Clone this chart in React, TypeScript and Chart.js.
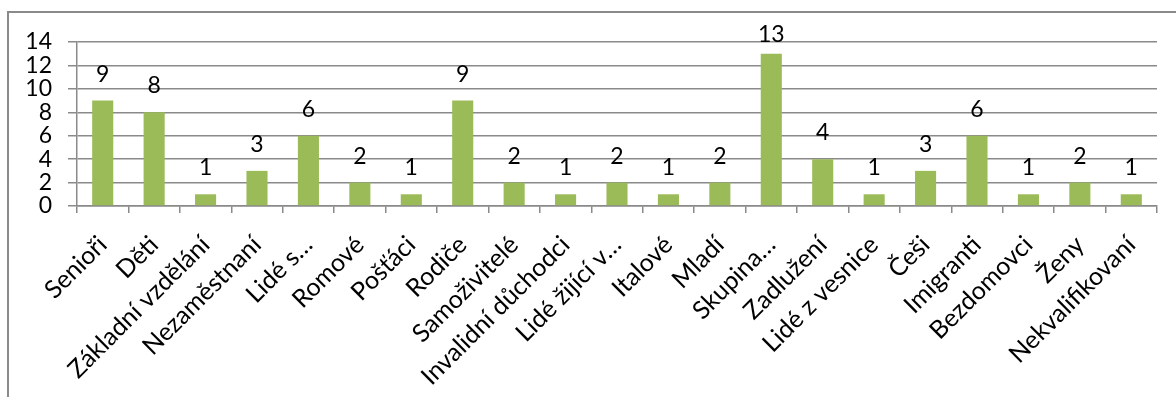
import React, { useEffect, useRef } from "react";
import { Chart, registerables } from "chart.js";

Chart.register(...registerables);

const categories: string[] = [
  "Senioři", "Děti", "Základní vzdělání", "Nezaměstnaní", "Lidé s…", "Romové",
  "Pošťáci", "Rodiče", "Samoživitelé", "Invalidní důchodci", "Lidé žijící v…",
  "Italové", "Mladí", "Skupina…", "Zadlužení", "Lidé z vesnice", "Češi",
  "Imigranti", "Bezdomovci", "Ženy", "Nekvalifikovaní",
];
const counts: number[] = [9, 8, 1, 3, 6, 2, 1, 9, 2, 1, 2, 1, 2, 13, 4, 1, 3, 6, 1, 2, 1];
const yTicks: number[] = [0, 2, 4, 6, 8, 10, 12, 14];

const FONT = "Lato, 'Open Sans', sans-serif";
const GRID = "#8a8a8a";

const valueLabels = {
  id: "valueLabels",
  afterDatasetsDraw(chart: any) {
    const ctx = chart.ctx;
    const meta = chart.getDatasetMeta(0);
    ctx.save();
    ctx.font = `23px ${FONT}`;
    ctx.fillStyle = "#000";
    ctx.textAlign = "center";
    ctx.textBaseline = "alphabetic";
    meta.data.forEach((bar: any, i: number) => {
      const y = Math.max(bar.y - 19, chart.chartArea.top);
      ctx.fillText(String(chart.data.datasets[0].data[i]), bar.x, y);
    });
    ctx.restore();
  },
};

export default function App() {
  const ref = useRef<HTMLCanvasElement>(null);
  useEffect(() => {
    if (!ref.current) return;
    const chart = new Chart(ref.current, {
      type: "bar",
      data: {
        labels: categories,
        datasets: [
          {
            data: counts,
            backgroundColor: "#9BBB59",
            barPercentage: 0.41,
            categoryPercentage: 1,
          },
        ],
      },
      plugins: [valueLabels],
      options: {
        responsive: false,
        animation: false,
        devicePixelRatio: 1,
        layout: { padding: { top: 42, right: 19, left: 0, bottom: 0 } },
        plugins: { legend: { display: false }, tooltip: { enabled: false } },
        scales: {
          x: {
            grid: { drawOnChartArea: false, drawTicks: true, tickLength: 7, color: GRID, lineWidth: 1.5, offset: true },
            border: { display: true, color: GRID, width: 1.5 },
            ticks: {
              autoSkip: false,
              minRotation: 45,
              maxRotation: 45,
              color: "#000",
              font: { family: FONT, size: 25 },
              padding: 17,
            },
            afterFit: (s: any) => { s.height = 397 - 206; },
          },
          y: {
            min: 0,
            max: 14,
            afterBuildTicks: (s: any) => { s.ticks = yTicks.map((v) => ({ value: v })); },
            grid: { color: GRID, lineWidth: 1.5, tickLength: 9 },
            border: { display: true, color: GRID, width: 1.5 },
            ticks: {
              autoSkip: false,
              color: "#000",
              font: { family: FONT, size: 23 },
              padding: 16,
            },
            afterFit: (s: any) => { s.width = 77; },
          },
        },
      },
    });
    return () => chart.destroy();
  }, []);
  return (
    <div style={{ position: "fixed", left: 0, top: 0, width: 1176, height: 397, background: "#fff", overflow: "hidden" }}>
      <div style={{ position: "absolute", left: 7, top: 11, width: 1300, height: 500, borderLeft: "2px solid #8a8a8a", borderTop: "2px solid #8a8a8a" }} />
      <canvas ref={ref} width={1176} height={397} style={{ position: "absolute", left: 0, top: 0 }} />
    </div>
  );
}
